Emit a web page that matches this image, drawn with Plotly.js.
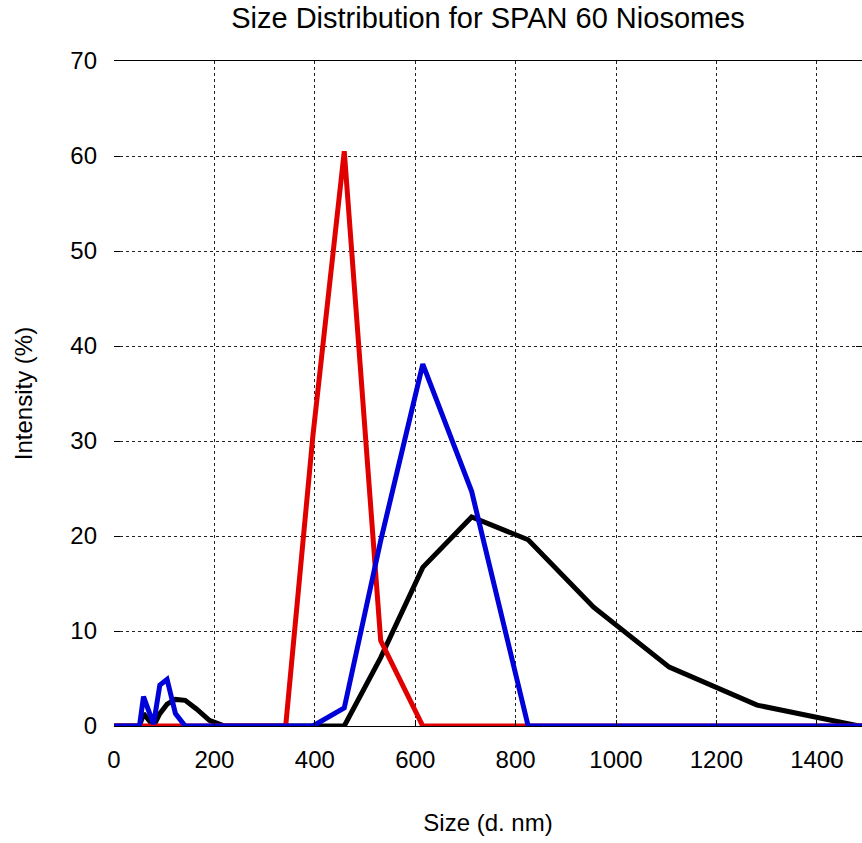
<!DOCTYPE html>
<html>
<head>
<meta charset="utf-8">
<script src="https://cdn.plot.ly/plotly-3.0.1.min.js"></script>
<style>html,body{margin:0;padding:0;background:#fff;}#chart{width:862px;height:843px;}</style>
</head>
<body>
<div id="chart"></div>
<script>
// Size bins (d. nm)
const sizeBins = [0.4, 43.82, 50.75, 58.77, 68.06, 78.82, 91.28, 105.7, 122.4, 141.8, 164.2, 190.1, 220.2, 255.0, 295.3, 342.0, 396.1, 458.7, 531.2, 615.1, 712.4, 825.0, 955.4, 1106, 1281, 1484, 1718];
// Intensity (%) per sample
const blackIntensity = [0, 0, 0, 1.3, 0.7, 0, 1.3, 2.3, 2.8, 2.7, 1.8, 0.6, 0, 0, 0, 0, 0, 0, 7.2, 16.7, 22.0, 19.6, 12.5, 6.2, 2.2, 0, 0];
const redIntensity   = [0, 0, 0, 0, 0, 0, 0, 0, 0, 0, 0, 0, 0, 0, 0, 0, 30.5, 60.5, 9.0, 0, 0, 0, 0, 0, 0, 0, 0];
const blueIntensity  = [0, 0, 0, 3.1, 1.6, 0.2, 4.3, 4.9, 1.3, 0, 0, 0, 0, 0, 0, 0, 0, 1.9, 19.5, 38.1, 24.7, 0, 0, 0, 0, 0, 0];

const xTicks = [0, 200, 400, 600, 800, 1000, 1200, 1400];
const yTicks = [0, 10, 20, 30, 40, 50, 60, 70];

const FONT = 'Liberation Sans, Arial, sans-serif';

const traces = [
  {x: sizeBins, y: blackIntensity, mode: 'lines', line: {color: '#000000', width: 5}, showlegend: false},
  {x: sizeBins, y: redIntensity, mode: 'lines', line: {color: '#e00000', width: 5}, showlegend: false},
  {x: sizeBins, y: blueIntensity, mode: 'lines', line: {color: '#0000d8', width: 5}, showlegend: false}
];

const layout = {
  width: 862, height: 843,
  margin: {l: 114, r: 0, t: 61, b: 117, pad: 0},
  paper_bgcolor: '#ffffff', plot_bgcolor: '#ffffff',
  font: {family: FONT, color: '#000000', size: 24},
  title: {text: 'Size Distribution for SPAN 60 Niosomes', font: {family: FONT, size: 29, color: '#000'},
          x: 0.5, xref: 'paper', xanchor: 'center', y: 0.979, yref: 'container', yanchor: 'middle'},
  xaxis: {
    range: [0, 1490], tickvals: xTicks, ticktext: xTicks.map(String),
    showgrid: true, gridcolor: '#222', gridwidth: 1, griddash: '3px,3px',
    zeroline: false, showline: true, linecolor: '#000', linewidth: 1, mirror: true,
    ticks: 'inside', ticklen: 6, tickcolor: '#000',
    tickfont: {family: FONT, size: 24}, ticklabelstandoff: 12,
    title: {text: 'Size (d. nm)', font: {family: FONT, size: 24}, standoff: 42}
  },
  yaxis: {
    range: [0, 70], tickvals: yTicks, ticktext: yTicks.map(String),
    showgrid: true, gridcolor: '#222', gridwidth: 1, griddash: '3px,3px',
    zeroline: false, showline: false, mirror: 'ticks',
    ticks: 'inside', ticklen: 6, tickcolor: '#000',
    tickfont: {family: FONT, size: 24}, ticklabelstandoff: 16,
    title: {text: 'Intensity (%)', font: {family: FONT, size: 24}, standoff: 30}
  }
};

Plotly.newPlot('chart', traces, layout, {displayModeBar: false, staticPlot: true});
</script>
</body>
</html>
